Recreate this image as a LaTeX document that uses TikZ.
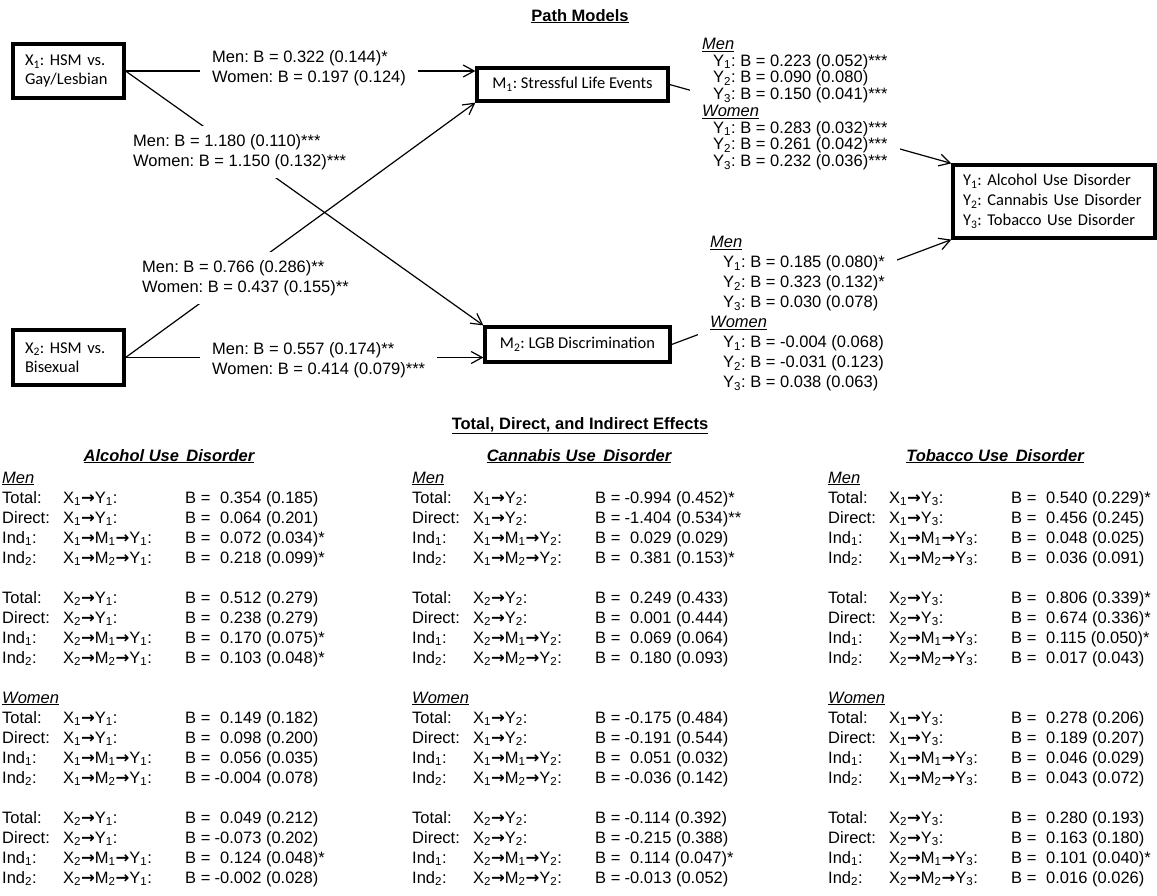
\documentclass[tikz,border=0pt]{standalone}
\usepackage{fontspec}
\setmainfont{Liberation Sans}
\newfontfamily\boxfont{Carlito}
\newfontfamily\arrowfont{DejaVu Sans}
\usepackage{tikz}
\usetikzlibrary{arrows.meta}
\usetikzlibrary{calc}
\newcommand{\sbs}[1]{\textsubscript{#1}}
\newcommand{\parrow}{{\arrowfont\bfseries →}}
\newcommand{\mns}{\llap{-}}
\frenchspacing

\begin{document}
\begin{tikzpicture}[x=1pt,y=-1pt,
    every node/.style={font=\fontsize{16.5}{20}\selectfont},
    box/.style={draw, line width=3.2pt, inner sep=0pt, font=\boxfont\fontsize{16.5}{19}\selectfont},
    coef/.style={fill=white, align=left, inner xsep=12pt, inner ysep=8pt},
    link/.style={line width=1.2pt, -{Straight Barb[length=11pt,width=12pt]}},
    eff/.style={anchor=base west, inner sep=0pt},
    head/.style={anchor=base, inner sep=0pt, font=\bfseries\fontsize{16.5}{20}\selectfont}]
    \fill[white] (0,0) rectangle (1157,895);
    \useasboundingbox (0,0) rectangle (1157,895);
    % Titles
    \node[head] (tpath) at (580,21) {\underline{Path Models}};
    \node[head] (teff) at (580,429) {\underline{Total, Direct, and Indirect Effects}};
    % Boxes
    \node[box, text width=87pt, inner xsep=12pt, minimum height=54pt, align=left] (X1) at (68.5,71) {X\sbs{1}: HSM vs.\\Gay/Lesbian};
    \node[box, text width=87pt, inner xsep=12pt, minimum height=55pt, align=left] (X2) at (68.5,357.5) {X\sbs{2}: HSM vs.\\Bisexual};
    \node[box, minimum width=191pt, minimum height=33pt] (M1) at (572.5,84.5) {M\sbs{1}: Stressful Life Events};
    \node[box, minimum width=185pt, minimum height=35pt] (M2) at (577.5,344.5) {M\sbs{2}: LGB Discrimination};
    \node[box, text width=182pt, inner xsep=10pt, minimum height=73pt, align=left, font=\boxfont\fontsize{16.5}{20}\selectfont] (Y) at (1054,201.5)
      {Y\sbs{1}: Alcohol Use Disorder\\Y\sbs{2}: Cannabis Use Disorder\\Y\sbs{3}: Tobacco Use Disorder};
    % Paths
    \draw[link] (X1.east) -- (M1.west |- X1.east);
    \draw[link] (X1.east) -- (M2.north west);
    \draw[link] (X2.east) -- (M1.south west);
    \draw[link] (X2.east) -- (M2.west |- X2.east);
    \draw[link] (M1.east) -- (Y.north west);
    \draw[link] (M2.east) -- (Y.south west);
    % Path coefficients
    \node[coef, anchor=west] (c11) at (200,68) {Men: B = 0.322 (0.144)*\\Women: B = 0.197 (0.124)};
    \node[coef, anchor=west] (c12) at (121,152) {Men: B = 1.180 (0.110)***\\Women: B = 1.150 (0.132)***};
    \node[coef, anchor=west] (c21) at (130,278) {Men: B = 0.766 (0.286)**\\Women: B = 0.437 (0.155)**};
    \node[coef, anchor=west] (c22) at (200,360) {Men: B = 0.557 (0.174)**\\Women: B = 0.414 (0.079)***};
    \node[coef, anchor=north west, inner ysep=4pt, font=\fontsize{16.5}{16.7}\selectfont] (cM1) at (690,34)
      {\underline{\textit{Men}}\\
       \hspace*{11pt}Y\sbs{1}: B = 0.223 (0.052)***\\
       \hspace*{11pt}Y\sbs{2}: B = 0.090 (0.080)\\
       \hspace*{11pt}Y\sbs{3}: B = 0.150 (0.041)***\\
       \underline{\textit{Women}}\\
       \hspace*{11pt}Y\sbs{1}: B = 0.283 (0.032)***\\
       \hspace*{11pt}Y\sbs{2}: B = 0.261 (0.042)***\\
       \hspace*{11pt}Y\sbs{3}: B = 0.232 (0.036)***};
    \node[coef, anchor=north west, inner ysep=4pt] (cM2) at (698,232)
      {\underline{\textit{Men}}\\
       \hspace*{13pt}Y\sbs{1}: B = 0.185 (0.080)*\\
       \hspace*{13pt}Y\sbs{2}: B = 0.323 (0.132)*\\
       \hspace*{13pt}Y\sbs{3}: B = 0.030 (0.078)\\
       \underline{\textit{Women}}\\
       \hspace*{13pt}Y\sbs{1}: B = -0.004 (0.068)\\
       \hspace*{13pt}Y\sbs{2}: B = -0.031 (0.123)\\
       \hspace*{13pt}Y\sbs{3}: B = 0.038 (0.063)};
    % Effect tables: headings
    \foreach \cx/\dis in {0/Alcohol,410/Cannabis,826/Tobacco}{
      \node[head, font=\bfseries\itshape\fontsize{16.5}{20}\selectfont] (h\dis) at (\cx+169,461) {\underline{\dis\ Use\hspace{0.45em}Disorder}};
      \node[eff] (men\dis) at (\cx+2,483) {\underline{\textit{Men}}};
      \node[eff] (women\dis) at (\cx+2,703) {\underline{\textit{Women}}};
    }
    % Effect tables: row labels and paths
    \foreach \cx/\k in {0/1,410/2,826/3}
      \foreach \gy/\xi in {503/1,603/2,723/1,823/2}
        \foreach \lab/\via [count=\r from 0] in {Total:/{},Direct:/{},Ind\sbs{1}:/M\sbs{1}\parrow,Ind\sbs{2}:/M\sbs{2}\parrow}{
          \node[eff] (lab\cx-\gy-\r) at (\cx+2,\gy+20*\r) {\lab};
          \node[eff] (pth\cx-\gy-\r) at (\cx+63,\gy+20*\r) {X\sbs{\xi}\parrow\via Y\sbs{\k}:};
        }
    % Effect tables: estimates
    \foreach \cx/\vals in {
        0/{0.354 (0.185), 0.064 (0.201), 0.072 (0.034)*, 0.218 (0.099)*,
           0.512 (0.279), 0.238 (0.279), 0.170 (0.075)*, 0.103 (0.048)*,
           0.149 (0.182), 0.098 (0.200), 0.056 (0.035), \mns0.004 (0.078),
           0.049 (0.212), \mns0.073 (0.202), 0.124 (0.048)*, \mns0.002 (0.028)},
        410/{\mns0.994 (0.452)*, \mns1.404 (0.534)**, 0.029 (0.029), 0.381 (0.153)*,
           0.249 (0.433), 0.001 (0.444), 0.069 (0.064), 0.180 (0.093),
           \mns0.175 (0.484), \mns0.191 (0.544), 0.051 (0.032), \mns0.036 (0.142),
           \mns0.114 (0.392), \mns0.215 (0.388), 0.114 (0.047)*, \mns0.013 (0.052)},
        826/{0.540 (0.229)*, 0.456 (0.245), 0.048 (0.025), 0.036 (0.091),
           0.806 (0.339)*, 0.674 (0.336)*, 0.115 (0.050)*, 0.017 (0.043),
           0.278 (0.206), 0.189 (0.207), 0.046 (0.029), 0.043 (0.072),
           0.280 (0.193), 0.163 (0.180), 0.101 (0.040)*, 0.016 (0.026)}}
      \foreach \v [count=\i from 0] in \vals {
        \pgfmathsetmacro\ry{503+20*\i+20*floor(\i/4)+20*(\i>7)}
        \node[eff] (val\cx-\i) at (\cx+185,\ry) {\makebox[35pt][l]{B =}\v};
      }
\end{tikzpicture}
\end{document}
